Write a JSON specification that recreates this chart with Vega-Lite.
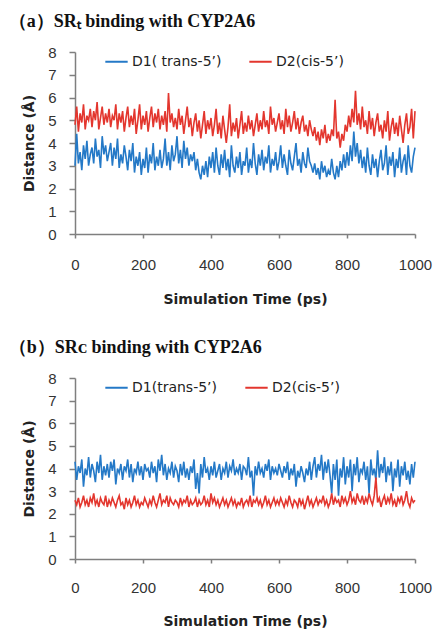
{
"$schema": "https://vega.github.io/schema/vega-lite/v6.json",
"padding": {"left": 8, "top": 13, "right": 4, "bottom": 4},
"spacing": 33,
"config": {
 "view": {"stroke": null},
 "axis": {"grid": false, "domainColor": "#7f7f7f", "domainWidth": 1.5, "tickColor": "#7f7f7f", "tickWidth": 1.5, "labelFont": "Liberation Sans", "labelFontSize": 15, "labelColor": "#333333", "titleFont": "DejaVu Sans", "titleFontWeight": "bold", "titleFontSize": 14, "titleColor": "#222222"},
 "legend": {"orient": "none", "legendX": 29, "legendY": -3, "direction": "horizontal", "symbolType": "stroke", "symbolStrokeWidth": 2, "symbolSize": 500, "labelFont": "DejaVu Sans", "labelFontSize": 14, "labelColor": "#222222", "columnPadding": 23, "labelOffset": 3, "title": null},
 "title": {"font": "Liberation Serif", "fontWeight": "bold", "fontSize": 18, "color": "#111111", "anchor": "start", "frame": "bounds", "dx": -14, "offset": 14}
},
"datasets": {"md": [
{"t":0,"a1":3.0,"a2":4.8,"b1":4.3,"b2":2.6},{"t":5,"a1":4.4,"a2":5.6,"b1":3.5,"b2":2.4},{"t":10,"a1":3.1,"a2":4.5,"b1":4.1,"b2":2.7},{"t":15,"a1":3.6,"a2":5.3,"b1":3.8,"b2":2.3},{"t":20,"a1":2.8,"a2":4.9,"b1":4.4,"b2":2.5},{"t":25,"a1":3.9,"a2":5.7,"b1":3.2,"b2":2.8},{"t":30,"a1":3.3,"a2":4.6,"b1":4.0,"b2":2.4},{"t":35,"a1":4.1,"a2":5.2,"b1":3.7,"b2":2.6},{"t":40,"a1":3.0,"a2":5.0,"b1":4.5,"b2":2.3},{"t":45,"a1":3.5,"a2":5.5,"b1":3.6,"b2":2.7},
{"t":50,"a1":3.8,"a2":4.7,"b1":4.2,"b2":2.5},{"t":55,"a1":3.1,"a2":5.4,"b1":3.9,"b2":2.9},{"t":60,"a1":4.2,"a2":5.0,"b1":3.4,"b2":2.4},{"t":65,"a1":3.4,"a2":5.8,"b1":4.3,"b2":2.6},{"t":70,"a1":3.7,"a2":4.6,"b1":3.8,"b2":2.3},{"t":75,"a1":2.9,"a2":5.1,"b1":4.6,"b2":2.7},{"t":80,"a1":4.3,"a2":5.6,"b1":3.5,"b2":2.5},{"t":85,"a1":3.5,"a2":4.8,"b1":4.1,"b2":2.4},{"t":90,"a1":3.9,"a2":5.3,"b1":3.7,"b2":2.8},{"t":95,"a1":3.2,"a2":4.9,"b1":4.2,"b2":2.3},
{"t":100,"a1":3.6,"a2":5.5,"b1":3.6,"b2":2.6},{"t":105,"a1":4.0,"a2":4.7,"b1":4.3,"b2":2.4},{"t":110,"a1":3.0,"a2":5.2,"b1":3.9,"b2":2.7},{"t":115,"a1":3.8,"a2":5.0,"b1":4.4,"b2":2.5},{"t":120,"a1":3.3,"a2":5.7,"b1":3.3,"b2":2.3},{"t":125,"a1":4.2,"a2":4.6,"b1":4.0,"b2":2.6},{"t":130,"a1":2.9,"a2":5.3,"b1":3.8,"b2":2.8},{"t":135,"a1":3.5,"a2":4.9,"b1":4.2,"b2":2.4},{"t":140,"a1":3.1,"a2":5.4,"b1":3.5,"b2":2.5},{"t":145,"a1":3.9,"a2":4.5,"b1":4.1,"b2":2.2},
{"t":150,"a1":3.4,"a2":5.1,"b1":3.9,"b2":2.7},{"t":155,"a1":2.8,"a2":5.6,"b1":4.4,"b2":2.4},{"t":160,"a1":3.7,"a2":4.7,"b1":3.6,"b2":2.6},{"t":165,"a1":3.2,"a2":5.2,"b1":4.2,"b2":2.3},{"t":170,"a1":4.0,"a2":4.8,"b1":3.4,"b2":2.5},{"t":175,"a1":2.7,"a2":5.5,"b1":4.0,"b2":2.8},{"t":180,"a1":3.4,"a2":4.4,"b1":3.8,"b2":2.4},{"t":185,"a1":3.0,"a2":5.0,"b1":4.3,"b2":2.6},{"t":190,"a1":3.6,"a2":5.7,"b1":3.7,"b2":2.3},{"t":195,"a1":2.6,"a2":4.6,"b1":4.1,"b2":2.5},
{"t":200,"a1":3.3,"a2":5.2,"b1":3.5,"b2":2.4},{"t":205,"a1":2.9,"a2":4.8,"b1":4.2,"b2":2.7},{"t":210,"a1":3.8,"a2":5.4,"b1":3.9,"b2":2.5},{"t":215,"a1":2.7,"a2":4.5,"b1":4.0,"b2":2.3},{"t":220,"a1":3.5,"a2":5.1,"b1":3.6,"b2":2.6},{"t":225,"a1":3.1,"a2":5.6,"b1":4.3,"b2":2.4},{"t":230,"a1":4.0,"a2":4.7,"b1":3.8,"b2":2.8},{"t":235,"a1":2.8,"a2":5.3,"b1":4.1,"b2":2.5},{"t":240,"a1":3.4,"a2":4.9,"b1":3.4,"b2":2.3},{"t":245,"a1":3.0,"a2":5.5,"b1":4.4,"b2":2.6},
{"t":250,"a1":3.7,"a2":4.6,"b1":3.9,"b2":2.9},{"t":255,"a1":2.9,"a2":5.2,"b1":4.6,"b2":2.4},{"t":260,"a1":3.3,"a2":4.8,"b1":3.7,"b2":2.6},{"t":265,"a1":4.2,"a2":5.4,"b1":4.2,"b2":2.5},{"t":270,"a1":3.0,"a2":4.5,"b1":3.5,"b2":2.8},{"t":275,"a1":3.6,"a2":6.2,"b1":4.0,"b2":2.3},{"t":280,"a1":2.8,"a2":4.9,"b1":3.8,"b2":2.7},{"t":285,"a1":3.9,"a2":5.3,"b1":4.3,"b2":2.5},{"t":290,"a1":3.2,"a2":4.7,"b1":3.6,"b2":2.4},{"t":295,"a1":3.5,"a2":5.1,"b1":4.1,"b2":2.6},
{"t":300,"a1":4.3,"a2":4.6,"b1":3.9,"b2":2.5},{"t":305,"a1":3.1,"a2":5.5,"b1":3.4,"b2":2.3},{"t":310,"a1":3.7,"a2":4.8,"b1":4.2,"b2":2.7},{"t":315,"a1":2.9,"a2":5.2,"b1":3.7,"b2":2.4},{"t":320,"a1":4.1,"a2":4.4,"b1":4.3,"b2":2.6},{"t":325,"a1":3.3,"a2":5.0,"b1":3.6,"b2":2.5},{"t":330,"a1":3.8,"a2":5.6,"b1":4.0,"b2":2.8},{"t":335,"a1":3.0,"a2":4.7,"b1":3.5,"b2":2.3},{"t":340,"a1":3.5,"a2":5.1,"b1":4.1,"b2":2.6},{"t":345,"a1":3.2,"a2":4.3,"b1":3.8,"b2":2.4},
{"t":350,"a1":3.6,"a2":4.9,"b1":4.4,"b2":2.5},{"t":355,"a1":2.8,"a2":5.3,"b1":3.1,"b2":2.7},{"t":360,"a1":3.3,"a2":4.5,"b1":3.8,"b2":2.3},{"t":365,"a1":2.7,"a2":5.0,"b1":2.9,"b2":2.6},{"t":370,"a1":2.4,"a2":4.2,"b1":4.2,"b2":2.4},{"t":375,"a1":3.0,"a2":4.8,"b1":3.6,"b2":2.5},{"t":380,"a1":2.6,"a2":5.4,"b1":4.5,"b2":2.8},{"t":385,"a1":3.2,"a2":4.4,"b1":3.8,"b2":2.4},{"t":390,"a1":2.5,"a2":5.0,"b1":4.0,"b2":2.6},{"t":395,"a1":3.4,"a2":4.6,"b1":3.5,"b2":2.3},
{"t":400,"a1":2.9,"a2":5.1,"b1":4.1,"b2":2.9},{"t":405,"a1":3.6,"a2":4.3,"b1":3.7,"b2":2.5},{"t":410,"a1":2.7,"a2":4.8,"b1":4.3,"b2":2.7},{"t":415,"a1":3.8,"a2":5.5,"b1":3.6,"b2":2.4},{"t":420,"a1":3.0,"a2":4.4,"b1":3.9,"b2":2.6},{"t":425,"a1":2.6,"a2":4.9,"b1":4.2,"b2":2.3},{"t":430,"a1":3.5,"a2":4.2,"b1":3.5,"b2":2.5},{"t":435,"a1":2.9,"a2":5.2,"b1":4.0,"b2":2.7},{"t":440,"a1":3.7,"a2":4.6,"b1":3.8,"b2":2.4},{"t":445,"a1":2.8,"a2":4.0,"b1":4.3,"b2":2.6},
{"t":450,"a1":3.3,"a2":4.7,"b1":3.6,"b2":2.3},{"t":455,"a1":2.5,"a2":5.7,"b1":4.1,"b2":2.5},{"t":460,"a1":3.9,"a2":4.3,"b1":3.9,"b2":2.7},{"t":465,"a1":3.0,"a2":4.9,"b1":4.4,"b2":2.4},{"t":470,"a1":2.7,"a2":4.5,"b1":3.7,"b2":2.6},{"t":475,"a1":3.4,"a2":5.1,"b1":4.0,"b2":2.3},{"t":480,"a1":2.9,"a2":4.2,"b1":3.8,"b2":2.5},{"t":485,"a1":3.6,"a2":4.8,"b1":4.2,"b2":2.4},{"t":490,"a1":2.6,"a2":5.4,"b1":3.5,"b2":2.7},{"t":495,"a1":3.2,"a2":4.4,"b1":4.1,"b2":2.3},
{"t":500,"a1":3.0,"a2":4.9,"b1":4.0,"b2":2.5},{"t":505,"a1":3.8,"a2":4.5,"b1":3.7,"b2":2.6},{"t":510,"a1":2.7,"a2":5.2,"b1":4.5,"b2":2.4},{"t":515,"a1":3.3,"a2":4.6,"b1":3.6,"b2":2.8},{"t":520,"a1":2.9,"a2":5.0,"b1":3.9,"b2":2.3},{"t":525,"a1":4.0,"a2":4.3,"b1":2.8,"b2":2.6},{"t":530,"a1":3.1,"a2":4.8,"b1":4.1,"b2":2.5},{"t":535,"a1":2.6,"a2":5.3,"b1":3.7,"b2":2.7},{"t":540,"a1":3.5,"a2":4.5,"b1":4.3,"b2":2.4},{"t":545,"a1":3.0,"a2":5.0,"b1":3.8,"b2":2.6},
{"t":550,"a1":3.7,"a2":4.6,"b1":4.0,"b2":2.3},{"t":555,"a1":2.8,"a2":5.4,"b1":3.6,"b2":2.5},{"t":560,"a1":3.4,"a2":4.7,"b1":4.2,"b2":2.8},{"t":565,"a1":3.1,"a2":5.0,"b1":3.9,"b2":2.4},{"t":570,"a1":3.9,"a2":4.4,"b1":4.4,"b2":2.6},{"t":575,"a1":2.7,"a2":5.6,"b1":3.5,"b2":2.3},{"t":580,"a1":3.3,"a2":4.8,"b1":4.1,"b2":2.5},{"t":585,"a1":3.0,"a2":5.1,"b1":3.8,"b2":2.7},{"t":590,"a1":3.6,"a2":4.5,"b1":4.0,"b2":2.4},{"t":595,"a1":2.8,"a2":4.9,"b1":3.7,"b2":2.6},
{"t":600,"a1":3.2,"a2":5.3,"b1":4.2,"b2":2.4},{"t":605,"a1":3.9,"a2":4.6,"b1":3.9,"b2":2.7},{"t":610,"a1":2.9,"a2":5.0,"b1":3.6,"b2":2.5},{"t":615,"a1":3.5,"a2":4.4,"b1":4.1,"b2":2.3},{"t":620,"a1":3.0,"a2":5.5,"b1":3.8,"b2":2.6},{"t":625,"a1":2.6,"a2":4.7,"b1":4.3,"b2":2.4},{"t":630,"a1":3.7,"a2":5.2,"b1":3.5,"b2":2.8},{"t":635,"a1":3.1,"a2":4.5,"b1":4.0,"b2":2.5},{"t":640,"a1":2.8,"a2":4.9,"b1":3.7,"b2":2.3},{"t":645,"a1":3.4,"a2":5.4,"b1":4.2,"b2":2.6},
{"t":650,"a1":4.0,"a2":4.6,"b1":3.2,"b2":2.5},{"t":655,"a1":3.0,"a2":5.1,"b1":3.9,"b2":2.3},{"t":660,"a1":3.3,"a2":4.4,"b1":3.6,"b2":2.7},{"t":665,"a1":2.7,"a2":4.9,"b1":4.1,"b2":2.4},{"t":670,"a1":3.6,"a2":5.2,"b1":3.8,"b2":2.6},{"t":675,"a1":3.1,"a2":4.5,"b1":3.4,"b2":2.2},{"t":680,"a1":2.9,"a2":4.8,"b1":4.0,"b2":2.5},{"t":685,"a1":3.8,"a2":4.3,"b1":3.7,"b2":2.8},{"t":690,"a1":3.2,"a2":5.0,"b1":4.3,"b2":2.4},{"t":695,"a1":3.0,"a2":4.6,"b1":3.5,"b2":2.6},
{"t":700,"a1":2.7,"a2":4.3,"b1":4.1,"b2":2.3},{"t":705,"a1":3.1,"a2":4.7,"b1":4.5,"b2":2.5},{"t":710,"a1":2.6,"a2":4.1,"b1":3.6,"b2":2.7},{"t":715,"a1":2.9,"a2":4.5,"b1":4.2,"b2":2.4},{"t":720,"a1":2.4,"a2":3.9,"b1":3.9,"b2":2.6},{"t":725,"a1":3.2,"a2":4.6,"b1":4.6,"b2":2.5},{"t":730,"a1":2.7,"a2":4.2,"b1":3.5,"b2":2.8},{"t":735,"a1":3.0,"a2":4.8,"b1":4.3,"b2":2.4},{"t":740,"a1":2.5,"a2":4.0,"b1":3.8,"b2":2.6},{"t":745,"a1":2.8,"a2":4.4,"b1":4.4,"b2":2.3},
{"t":750,"a1":2.6,"a2":4.1,"b1":3.7,"b2":2.5},{"t":755,"a1":3.3,"a2":4.6,"b1":2.9,"b2":2.9},{"t":760,"a1":2.7,"a2":4.3,"b1":4.2,"b2":2.4},{"t":765,"a1":2.4,"a2":5.9,"b1":3.5,"b2":2.7},{"t":770,"a1":3.0,"a2":4.2,"b1":4.4,"b2":2.5},{"t":775,"a1":2.5,"a2":4.5,"b1":2.8,"b2":2.6},{"t":780,"a1":3.2,"a2":3.8,"b1":4.0,"b2":2.3},{"t":785,"a1":2.8,"a2":4.4,"b1":3.6,"b2":2.8},{"t":790,"a1":3.5,"a2":4.1,"b1":4.5,"b2":2.5},{"t":795,"a1":2.9,"a2":4.8,"b1":3.3,"b2":2.7},
{"t":800,"a1":3.6,"a2":4.5,"b1":4.1,"b2":2.4},{"t":805,"a1":3.0,"a2":5.2,"b1":3.6,"b2":2.6},{"t":810,"a1":3.9,"a2":4.7,"b1":4.4,"b2":3.0},{"t":815,"a1":3.2,"a2":5.5,"b1":3.0,"b2":2.5},{"t":820,"a1":4.5,"a2":4.9,"b1":4.2,"b2":2.7},{"t":825,"a1":3.4,"a2":6.3,"b1":3.7,"b2":2.4},{"t":830,"a1":4.0,"a2":4.8,"b1":4.5,"b2":2.9},{"t":835,"a1":3.1,"a2":5.3,"b1":3.4,"b2":2.6},{"t":840,"a1":3.7,"a2":4.6,"b1":4.0,"b2":2.5},{"t":845,"a1":2.9,"a2":5.6,"b1":3.8,"b2":2.8},
{"t":850,"a1":3.4,"a2":4.7,"b1":4.3,"b2":2.4},{"t":855,"a1":2.7,"a2":5.0,"b1":3.5,"b2":2.7},{"t":860,"a1":3.8,"a2":4.4,"b1":4.1,"b2":2.5},{"t":865,"a1":3.0,"a2":5.4,"b1":2.9,"b2":2.9},{"t":870,"a1":2.6,"a2":4.6,"b1":4.4,"b2":2.6},{"t":875,"a1":3.5,"a2":5.1,"b1":3.7,"b2":2.4},{"t":880,"a1":2.9,"a2":4.3,"b1":4.0,"b2":2.8},{"t":885,"a1":3.3,"a2":4.9,"b1":3.5,"b2":3.6},{"t":890,"a1":2.5,"a2":5.3,"b1":4.8,"b2":2.5},{"t":895,"a1":3.2,"a2":4.5,"b1":3.6,"b2":2.7},
{"t":900,"a1":3.7,"a2":4.8,"b1":4.2,"b2":2.3},{"t":905,"a1":2.8,"a2":4.2,"b1":3.8,"b2":2.6},{"t":910,"a1":3.1,"a2":5.0,"b1":4.5,"b2":2.8},{"t":915,"a1":3.9,"a2":4.5,"b1":3.4,"b2":2.4},{"t":920,"a1":2.6,"a2":5.4,"b1":4.1,"b2":2.7},{"t":925,"a1":3.4,"a2":4.1,"b1":3.7,"b2":2.5},{"t":930,"a1":3.0,"a2":4.7,"b1":4.3,"b2":2.9},{"t":935,"a1":3.6,"a2":5.1,"b1":3.0,"b2":2.4},{"t":940,"a1":2.5,"a2":4.4,"b1":4.0,"b2":2.6},{"t":945,"a1":3.3,"a2":4.9,"b1":3.6,"b2":2.3},
{"t":950,"a1":2.9,"a2":4.3,"b1":4.4,"b2":2.7},{"t":955,"a1":3.8,"a2":5.2,"b1":3.2,"b2":2.5},{"t":960,"a1":2.7,"a2":4.6,"b1":4.1,"b2":2.8},{"t":965,"a1":3.2,"a2":4.0,"b1":3.7,"b2":2.4},{"t":970,"a1":3.5,"a2":4.8,"b1":4.3,"b2":2.6},{"t":975,"a1":2.6,"a2":5.3,"b1":3.5,"b2":3.0},{"t":980,"a1":3.9,"a2":4.4,"b1":3.9,"b2":2.5},{"t":985,"a1":3.0,"a2":4.7,"b1":3.3,"b2":2.3},{"t":990,"a1":2.7,"a2":5.5,"b1":4.2,"b2":2.7},{"t":995,"a1":3.4,"a2":4.2,"b1":3.6,"b2":2.5},
{"t":1000,"a1":3.8,"a2":5.4,"b1":4.3,"b2":2.6}
]},
"vconcat": [
 {
  "title": {"text": "（a）SRₜ binding with CYP2A6"},
  "width": 340, "height": 182,
  "data": {"name": "md"},
  "transform": [{"fold": ["a1", "a2"], "as": ["s", "d"]}],
  "mark": {"type": "line", "strokeWidth": 1.6},
  "encoding": {
   "x": {"field": "t", "type": "quantitative", "scale": {"domain": [0, 1000], "nice": false}, "axis": {"values": [0, 200, 400, 600, 800, 1000], "format": "d", "tickSize": 4, "labelPadding": 19, "title": "Simulation Time (ps)", "titlePadding": 20, "labelFlush": false}},
   "y": {"field": "d", "type": "quantitative", "scale": {"domain": [0, 8], "nice": false}, "axis": {"values": [0, 1, 2, 3, 4, 5, 6, 7, 8], "tickSize": 6, "labelPadding": 13, "title": "Distance (Å)", "titlePadding": 11}},
   "color": {"field": "s", "type": "nominal", "scale": {"domain": ["a1", "a2"], "range": ["#2479c7", "#e3362e"]}, "legend": {"labelExpr": "datum.label == 'a1' ? 'D1( trans-5’)' : 'D2(cis-5’)'"}}
  }
 },
 {
  "title": {"text": "（b）SRᴄ binding with CYP2A6"},
  "width": 340, "height": 181,
  "data": {"name": "md"},
  "transform": [{"fold": ["b1", "b2"], "as": ["s", "d"]}],
  "mark": {"type": "line", "strokeWidth": 1.6},
  "encoding": {
   "x": {"field": "t", "type": "quantitative", "scale": {"domain": [0, 1000], "nice": false}, "axis": {"values": [0, 200, 400, 600, 800, 1000], "format": "d", "tickSize": 4, "labelPadding": 17, "title": "Simulation Time (ps)", "titlePadding": 19, "labelFlush": false}},
   "y": {"field": "d", "type": "quantitative", "scale": {"domain": [0, 8], "nice": false}, "axis": {"values": [0, 1, 2, 3, 4, 5, 6, 7, 8], "tickSize": 6, "labelPadding": 13, "title": "Distance (Å)", "titlePadding": 11}},
   "color": {"field": "s", "type": "nominal", "scale": {"domain": ["b1", "b2"], "range": ["#2479c7", "#e3362e"]}, "legend": {"labelExpr": "datum.label == 'b1' ? 'D1(trans-5’)' : 'D2(cis-5’)'"}}
  }
 }
],
"resolve": {"scale": {"color": "independent"}, "legend": {"color": "independent"}}
}
